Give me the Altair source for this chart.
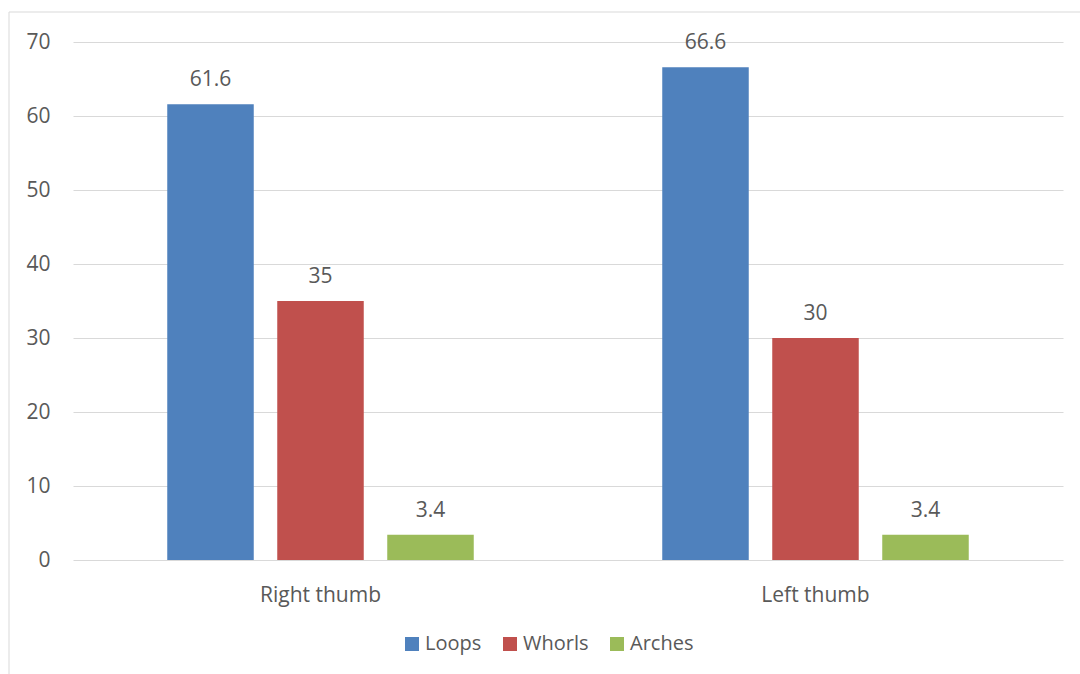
import altair as alt
import pandas as pd

# Thumb fingerprint pattern shares (%)
categories = ["Right thumb", "Left thumb"]
series = ["Loops", "Whorls", "Arches"]
loops = [61.6, 66.6]
whorls = [35, 30]
arches = [3.4, 3.4]
colors = ["#4f81bd", "#c0504d", "#9bbb59"]
y_ticks = [0, 10, 20, 30, 40, 50, 60, 70]

rows = []
for name, vals in zip(series, [loops, whorls, arches]):
    for cat, v in zip(categories, vals):
        rows.append({"thumb": cat, "pattern": name, "value": v})
df = pd.DataFrame(rows)

FONT = "Open Sans"
TEXT = "#595959"
GRID = "#d9d9d9"

x_enc = alt.X("thumb:N", sort=categories, title=None,
              scale=alt.Scale(paddingInner=0, paddingOuter=0),
              axis=alt.Axis(labelAngle=0, ticks=False, tickSize=0, domain=False,
                            labelFontSize=21, labelColor=TEXT, labelFont=FONT,
                            labelBaseline="alphabetic", labelPadding=41))
xoff_enc = alt.XOffset("pattern:N", sort=series,
                       scale=alt.Scale(domain=series, paddingInner=0.2136, paddingOuter=0.8568))
y_enc = alt.Y("value:Q", title=None,
              scale=alt.Scale(domain=[0, 70], nice=False),
              axis=alt.Axis(values=y_ticks, ticks=False, tickSize=0, domain=False,
                            grid=True, gridColor=GRID, gridWidth=1,
                            labelFontSize=21, labelColor=TEXT, labelFont=FONT,
                            labelPadding=23))

base = alt.Chart(df)

bars = base.mark_bar().encode(
    x=x_enc,
    xOffset=xoff_enc,
    y=y_enc,
    color=alt.Color("pattern:N", sort=series,
                    scale=alt.Scale(domain=series, range=colors),
                    legend=alt.Legend(title=None, orient="none", direction="horizontal",
                                      legendX=329, legendY=592,
                                      symbolType="square", symbolSize=196,
                                      symbolStrokeWidth=0, labelFontSize=20,
                                      labelColor=TEXT, labelFont=FONT,
                                      labelOffset=3, columnPadding=18, padding=0)),
)

labels = base.mark_text(baseline="alphabetic", dy=-18, fontSize=21,
                        font=FONT, color=TEXT).encode(
    x=alt.X("thumb:N", sort=categories),
    xOffset=alt.XOffset("pattern:N", sort=series),
    y="value:Q",
    text=alt.Text("value:Q", format=".1~f"),
)

# light frame around the chart area
frame_df = pd.DataFrame({"k": [0]})
frame_left = alt.Chart(frame_df).mark_rule(color=GRID, strokeWidth=1).encode(
    x=alt.value(-64), y=alt.value(-30), y2=alt.value(700))
frame_top = alt.Chart(frame_df).mark_rule(color=GRID, strokeWidth=1).encode(
    x=alt.value(-64), x2=alt.value(1100), y=alt.value(-30))

chart = alt.layer(bars, labels, frame_left, frame_top).properties(
    width=990, height=518,
    autosize=alt.AutoSizeParams(type="none"),
    padding={"left": 73, "top": 42, "right": 17, "bottom": 114},
    background="white",
).configure_view(stroke=None)

chart.save("out.html", embed_options={"renderer": "svg", "actions": False})
